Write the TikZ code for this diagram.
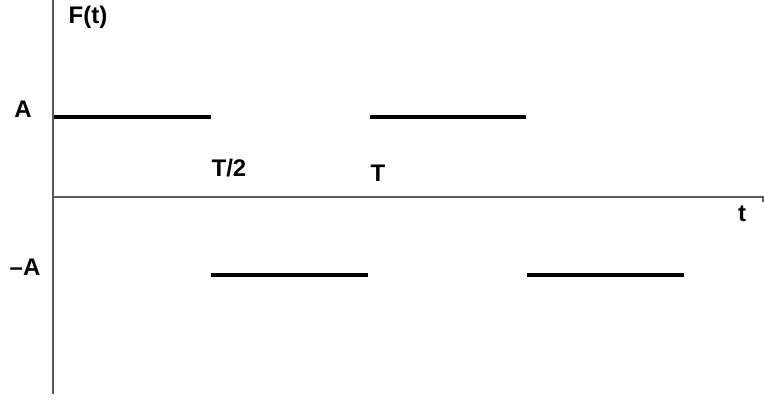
\documentclass[tikz,border=0pt]{standalone}
\usepackage{fontspec}
\setmainfont{Liberation Sans}
\begin{document}
\begin{tikzpicture}[x=1pt,y=-1pt,
  axisline/.style={draw=black!65,line width=1.3pt},
  pulse/.style={draw=black,line width=3.5pt},
  lbl/.style={inner sep=0pt,anchor=base,font=\fontsize{24}{28}\selectfont\bfseries}]
\useasboundingbox (0,0) rectangle (764,401);
% axes
\coordinate (ytop) at (53,0);
\coordinate (ybot) at (53,394);
\coordinate (xl) at (53,197);
\coordinate (xr) at (763,197);
\coordinate (xrt) at (763,202);
\draw[axisline] (ytop) -- (ybot);
\draw[axisline] (xl) -- (xr) -- (xrt);
% pulses
\coordinate (a1) at (54,117); \coordinate (a2) at (211,117);
\coordinate (b1) at (211,275); \coordinate (b2) at (368,275);
\coordinate (c1) at (370,117); \coordinate (c2) at (526,117);
\coordinate (d1) at (527,275); \coordinate (d2) at (684,275);
\draw[pulse] (a1) -- (a2);
\draw[pulse] (b1) -- (b2);
\draw[pulse] (c1) -- (c2);
\draw[pulse] (d1) -- (d2);
% labels
\node[lbl] (ft) at (88,24) {F(t)};
\node[lbl] (la) at (23,118) {A};
\node[lbl] (lt2) at (229,177) {T/2};
\node[lbl] (lt) at (378,182) {T};
\node[lbl] (ltt) at (742,222) {t};
\node[lbl] (lma) at (25,276) {–A};
\end{tikzpicture}
\end{document}
